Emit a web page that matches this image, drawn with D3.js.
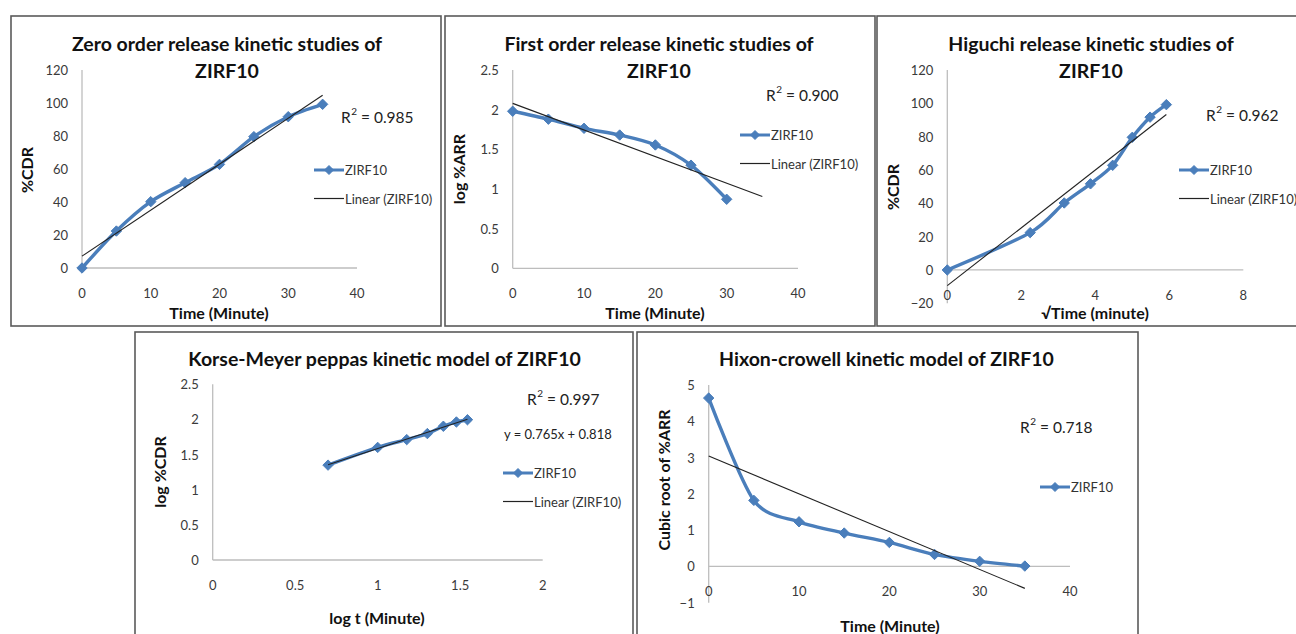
<!DOCTYPE html>
<html><head><meta charset="utf-8">
<script src="https://cdn.jsdelivr.net/npm/d3@7/dist/d3.min.js"></script>
<style>
html,body{margin:0;padding:0;background:#fff;}
svg{display:block;font-family:Lato,"Open Sans",sans-serif;}
</style></head>
<body><svg id="c" width="1296" height="634"></svg>
<script>
// ---------------- data ----------------
const timeMin = [0, 5, 10, 15, 20, 25, 30, 35];
const zeroCDR = [0, 22.4, 40.2, 51.7, 62.8, 79.6, 91.7, 99.2];
const firstTime = [0, 5, 10, 15, 20, 25, 30];
const firstLogARR = [1.98, 1.88, 1.765, 1.68, 1.555, 1.30, 0.87];
const sqrtTime = [0, 2.24, 3.16, 3.87, 4.47, 5, 5.48, 5.92];
const higuchiCDR = [0, 22.4, 40.2, 51.7, 62.8, 79.6, 91.7, 99.2];
const logTime = [0.699, 1, 1.176, 1.301, 1.398, 1.477, 1.544];
const logCDR = [1.35, 1.602, 1.713, 1.799, 1.903, 1.964, 1.996];
const hixonTime = [0, 5, 10, 15, 20, 25, 30, 35];
const hixonCubeARR = [4.64, 1.82, 1.23, 0.92, 0.66, 0.33, 0.14, 0.01];

const ticksTime = [0, 10, 20, 30, 40];
const ticksCDR = [0, 20, 40, 60, 80, 100, 120];
const ticksLog = [0, 0.5, 1, 1.5, 2, 2.5];
const ticksSqrt = [0, 2, 4, 6, 8];
const ticksHigY = [-20, 0, 20, 40, 60, 80, 100, 120];
const ticksLogT = [0, 0.5, 1, 1.5, 2];
const ticksHixY = [-1, 0, 1, 2, 3, 4, 5];

const seriesName = "ZIRF10";
const r2Labels = ["0.985", "0.900", "0.962", "0.997", "0.718"];

// ---------------- layout ----------------
const svg = d3.select("#c");
const BLUE = "#4A7EBB";

const boxes = [
  [11, 16, 441, 326], [445, 16, 875, 326], [877, 16, 1300, 326],
  [135, 332, 633, 640], [637, 332, 1138, 640]
];
boxes.forEach(b => {
  svg.append("rect").attr("x", b[0]).attr("y", b[1]).attr("width", b[2]-b[0]).attr("height", b[3]-b[1])
    .attr("fill", "none").attr("stroke", "#5a5a5a").attr("stroke-width", 1.6);
});

function regress(xs, ys) {
  const n = xs.length, mx = d3.mean(xs), my = d3.mean(ys);
  let sxy = 0, sxx = 0;
  for (let i = 0; i < n; i++) { sxy += (xs[i]-mx)*(ys[i]-my); sxx += (xs[i]-mx)**2; }
  const m = sxy/sxx; return {m, b: my - m*mx};
}

function diamond(g, x, y, s) {
  g.append("path").attr("d", `M${x},${y-s}L${x+s},${y}L${x},${y+s}L${x-s},${y}Z`)
    .attr("fill", BLUE).attr("stroke", BLUE).attr("stroke-width", 1);
}

const TICK_FS = 13, LEG_FS = 13, AXT_FS = 16, TITLE_FS = 19.5, R2_FS = 15.5;

function panel(cfg) {
  const g = svg.append("g");
  const x = d3.scaleLinear().domain(cfg.xDom).range(cfg.xR);
  const y = d3.scaleLinear().domain(cfg.yDom).range(cfg.yR);
  const y0 = y(cfg.xAxisAt);
  g.append("line").attr("x1", x(cfg.xDom[0])).attr("x2", x(cfg.xDom[1])).attr("y1", y0).attr("y2", y0)
    .attr("stroke", "#bdbdbd").attr("stroke-width", 1.3);
  g.append("line").attr("x1", x(cfg.xDom[0])).attr("x2", x(cfg.xDom[0])).attr("y1", y(cfg.yDom[0])).attr("y2", y(cfg.yDom[1]))
    .attr("stroke", "#bdbdbd").attr("stroke-width", 1.3);
  cfg.xTicks.forEach(t => {
    g.append("text").attr("x", x(t)).attr("y", y0 + 25).attr("text-anchor", "middle")
      .attr("dominant-baseline", "central").attr("font-size", TICK_FS).attr("fill", "#3a3a3a").text(d3.format("")(t));
  });
  cfg.yTicks.forEach(t => {
    g.append("text").attr("x", x(cfg.xDom[0]) - 14).attr("y", y(t)).attr("text-anchor", "end")
      .attr("dominant-baseline", "central").attr("font-size", TICK_FS).attr("fill", "#3a3a3a").text(d3.format("")(t));
  });
  cfg.title.forEach((t, i) => {
    g.append("text").attr("x", cfg.titleX).attr("y", cfg.titleY + i*27).attr("text-anchor", "middle")
      .attr("dominant-baseline", "central").attr("font-size", TITLE_FS).attr("font-weight", "bold").attr("fill", "#111").text(t);
  });
  g.append("text").attr("x", cfg.xtX).attr("y", cfg.xtY).attr("text-anchor", "middle").attr("dominant-baseline", "central")
    .attr("font-size", AXT_FS).attr("font-weight", "bold").attr("fill", "#111").text(cfg.xTitle);
  g.append("text").attr("transform", `translate(${cfg.ytX},${cfg.ytY}) rotate(-90)`).attr("text-anchor", "middle")
    .attr("dominant-baseline", "central").attr("font-size", AXT_FS).attr("font-weight", "bold").attr("fill", "#111").text(cfg.yTitle);
  const pts = cfg.xs.map((v, i) => [v, cfg.ys[i]]);
  const line = d3.line().x(d => x(d[0])).y(d => y(d[1])).curve(d3.curveCardinal.tension(0.15));
  g.append("path").attr("d", line(pts)).attr("fill", "none").attr("stroke", BLUE).attr("stroke-width", 3.4)
    .attr("stroke-linejoin", "round");
  pts.forEach(p => diamond(g, x(p[0]), y(p[1]), 5.2));
  const r = regress(cfg.xs, cfg.ys);
  const tx0 = cfg.trendFrom, tx1 = cfg.trendTo;
  g.append("line").attr("x1", x(tx0)).attr("y1", y(r.m*tx0 + r.b)).attr("x2", x(tx1)).attr("y2", y(r.m*tx1 + r.b))
    .attr("stroke", "#222").attr("stroke-width", 1.1);
  const rt = g.append("text").attr("x", cfg.r2X).attr("y", cfg.r2Y).attr("dominant-baseline", "central")
    .attr("font-size", R2_FS).attr("fill", "#222");
  rt.append("tspan").text("R");
  rt.append("tspan").attr("font-size", 10).attr("dy", -6).attr("dx", 0.5).text("2");
  rt.append("tspan").attr("dy", 6).text(" = " + cfg.r2);
  if (cfg.eq) {
    g.append("text").attr("x", cfg.eq[0]).attr("y", cfg.eq[1]).attr("dominant-baseline", "central")
      .attr("font-size", LEG_FS).attr("fill", "#222").text(cfg.eq[2]);
  }
  const lx = cfg.leg[0], ly = cfg.leg[1];
  g.append("line").attr("x1", lx).attr("x2", lx + 30).attr("y1", ly).attr("y2", ly).attr("stroke", BLUE).attr("stroke-width", 3);
  diamond(g, lx + 15, ly, 4.5);
  g.append("text").attr("x", lx + 31).attr("y", ly).attr("dominant-baseline", "central").attr("font-size", LEG_FS)
    .attr("fill", "#333").text(seriesName);
  if (cfg.linearLegend) {
    g.append("line").attr("x1", lx).attr("x2", lx + 30).attr("y1", ly + 28.5).attr("y2", ly + 28.5).attr("stroke", "#222").attr("stroke-width", 1.2);
    g.append("text").attr("x", lx + 31).attr("y", ly + 28.5).attr("dominant-baseline", "central").attr("font-size", LEG_FS)
      .attr("fill", "#333").text("Linear (" + seriesName + ")");
  }
}

panel({
  xDom: [0, 40], yDom: [0, 120], xR: [82, 357], yR: [268, 70], xAxisAt: 0,
  xTicks: ticksTime, yTicks: ticksCDR, xs: timeMin, ys: zeroCDR, trendFrom: 0, trendTo: 35,
  title: ["Zero order release kinetic studies of", "ZIRF10"], titleX: 227, titleY: 43,
  xTitle: "Time (Minute)", xtX: 219, xtY: 312, yTitle: "%CDR", ytX: 26, ytY: 170,
  r2: r2Labels[0], r2X: 341, r2Y: 117, leg: [314, 170], linearLegend: true
});
panel({
  xDom: [0, 40], yDom: [0, 2.5], xR: [512.7, 798], yR: [268.3, 70], xAxisAt: 0,
  xTicks: ticksTime, yTicks: ticksLog, xs: firstTime, ys: firstLogARR, trendFrom: 0, trendTo: 35,
  title: ["First order release kinetic studies of", "ZIRF10"], titleX: 659, titleY: 43,
  xTitle: "Time (Minute)", xtX: 655, xtY: 312, yTitle: "log %ARR", ytX: 458, ytY: 169,
  r2: r2Labels[1], r2X: 766, r2Y: 95, leg: [740, 135], linearLegend: true
});
panel({
  xDom: [0, 8], yDom: [-20, 120], xR: [947.3, 1243.3], yR: [303.3, 70], xAxisAt: 0,
  xTicks: ticksSqrt, yTicks: ticksHigY, xs: sqrtTime, ys: higuchiCDR, trendFrom: 0, trendTo: d3.max(sqrtTime),
  title: ["Higuchi release kinetic studies of", "ZIRF10"], titleX: 1091, titleY: 43,
  xTitle: "\u221ATime (minute)", xtX: 1095, xtY: 312, yTitle: "%CDR", ytX: 892, ytY: 187,
  r2: r2Labels[2], r2X: 1206, r2Y: 115, leg: [1179, 170], linearLegend: true
});
panel({
  xDom: [0, 2], yDom: [0, 2.5], xR: [212.7, 542.7], yR: [560, 384.3], xAxisAt: 0,
  xTicks: ticksLogT, yTicks: ticksLog, xs: logTime, ys: logCDR, trendFrom: d3.min(logTime), trendTo: d3.max(logTime),
  title: ["Korse-Meyer peppas kinetic model of ZIRF10"], titleX: 384.5, titleY: 358,
  xTitle: "log t (Minute)", xtX: 377, xtY: 617, yTitle: "log %CDR", ytX: 159, ytY: 472,
  r2: r2Labels[3], r2X: 527, r2Y: 399, eq: [504, 434, "y = 0.765x + 0.818"], leg: [503, 473], linearLegend: true
});
panel({
  xDom: [0, 40], yDom: [-1, 5], xR: [708.7, 1070], yR: [602.7, 385], xAxisAt: 0,
  xTicks: ticksTime, yTicks: ticksHixY, xs: hixonTime, ys: hixonCubeARR, trendFrom: 0, trendTo: 35,
  title: ["Hixon-crowell kinetic model of ZIRF10"], titleX: 886.5, titleY: 358,
  xTitle: "Time (Minute)", xtX: 890, xtY: 625, yTitle: "Cubic root of %ARR", ytX: 663, ytY: 480,
  r2: r2Labels[4], r2X: 1020, r2Y: 427, leg: [1040, 487], linearLegend: false
});
</script></body></html>
